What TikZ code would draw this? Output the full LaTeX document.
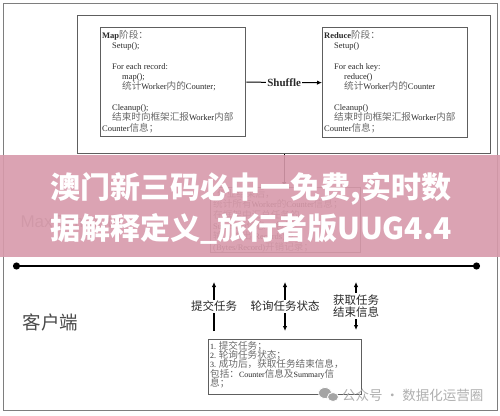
\documentclass[tikz,border=0pt]{standalone}
\usepackage{fontspec}
\setmainfont{Liberation Serif}
\setsansfont{Liberation Sans}
\newfontfamily\cjk{Noto Sans CJK SC}
\usetikzlibrary{arrows.meta,positioning}
\definecolor{ink}{HTML}{2A2A2A}
\definecolor{frame}{HTML}{5E5E5E}
\definecolor{hanzi}{HTML}{6A6A6A}
\definecolor{band}{HTML}{D89AAB}
\definecolor{mark}{HTML}{8E8E8E}
\newcommand{\zh}[1]{{\cjk\color{hanzi}\fontsize{9.6}{10}\selectfont#1}}

\begin{document}
\begin{tikzpicture}[x=1pt,y=-1pt,font=\fontsize{8.5}{10.3}\selectfont,text=ink,>={Latex[length=5pt,width=4.5pt]},
  box/.style={draw=frame,line width=1.3pt,anchor=north west,inner sep=0pt},
  code/.style={anchor=north west,align=left,inner sep=0pt,execute at begin node={\lineskiplimit=-8pt\relax}},
  tag/.style={fill=white,inner sep=1pt,align=center,font=\cjk\color{hanzi}\fontsize{11.5}{12.5}\selectfont}]
  \useasboundingbox (0,0) rectangle (500,415);
  \fill[white] (0,0) rectangle (500,415);
  \draw[frame!80,line width=1pt] (3,3) rectangle (497,410);

  \node[box,minimum width=413pt,minimum height=138pt] (worker) at (77,15) {};
  \node[box,minimum width=145pt,minimum height=109pt] (map) at (100,27) {};
  \node[box,minimum width=145pt,minimum height=110pt] (reduce) at (322,27) {};
  \node[code] (maptext) at (102,30)
    {\textbf{Map}\zh{阶段：}\\
     \hspace*{10pt}Setup();\\[10.3pt]
     \hspace*{10pt}For each record:\\
     \hspace*{20pt}map();\\
     \hspace*{20pt}\zh{统计}Worker\zh{内的}Counter;\\[10.3pt]
     \hspace*{10pt}Cleanup();\\
     \hspace*{10pt}\zh{结束时向框架汇报}Worker\zh{内部}\\
     Counter\zh{信息；}};
  \node[code] (reducetext) at (324,30)
    {\textbf{Reduce}\zh{阶段：}\\
     \hspace*{10pt}Setup()\\[10.3pt]
     \hspace*{10pt}For each key:\\
     \hspace*{20pt}reduce()\\
     \hspace*{20pt}\zh{统计}Worker\zh{内的}Counter\\[10.3pt]
     \hspace*{10pt}Cleanup()\\
     \hspace*{10pt}\zh{结束时向框架汇报}Worker\zh{内部}\\
     Counter\zh{信息；}};
  \draw[->,line width=1pt] (map.east) -- node[fill=white,inner sep=1pt,font=\bfseries\fontsize{11}{11}\selectfont] (shuffle) {Shuffle} (reduce.west);

  \node[box,minimum width=150pt,minimum height=65pt] (summary) at (210,187) {};
  \node[code,font=\fontsize{8.5}{10.6}\selectfont] (summarytext) at (213,189)
    {\hspace*{4pt}\zh{作业结束后，}\\
     \zh{统计所有}Worker\zh{的}Counter\zh{信息；}\\
     \zh{在框架中汇总任务的}\\
     Summary\zh{信息，包括}\\
     \zh{输入输出}(Records)\zh{及}\\
     (Bytes/Record)\zh{开销记录；}};
  \draw[->,line width=1pt] (worker.south) -- (worker.south |- summary.north);
  \node[anchor=west,font=\sffamily\fontsize{17}{17}\selectfont,text=mark] (product) at (17,223) {MaxCompute};

  \fill[band,opacity=0.9] (0,155) rectangle (500,257);
  \node[font=\cjk\bfseries\fontsize{30}{41}\selectfont,text=white,align=center] (banner) at (251,208)
    {澳门新三码必中一免费,实时数\\据解释定义\_旅行者版UUG4.4};

  \coordinate (lineL) at (13,266);
  \coordinate (lineR) at (480,266);
  \draw[line width=2pt,{Circle[length=7pt]}-{Circle[length=7pt]}] (lineL) -- (lineR);

  \node[anchor=west,font=\cjk\fontsize{18.5}{18}\selectfont,text=ink!85] (client) at (19,322) {客户端};

  \node[box,minimum width=153pt,minimum height=55pt] (jobbox) at (208,339) {};
  \node[code,font=\fontsize{8}{9.3}\selectfont] (jobtext) at (210,341)
    {1. \zh{提交任务；}\\
     2. \zh{轮询任务状态；}\\
     3. \zh{成功后，获取任务结束信息，}\\
     \zh{包括：}Counter\zh{信息及}Summary\zh{信}\\
     \zh{息；}};

  \coordinate (submitT) at (214,282);
  \coordinate (submitB) at (214,331);
  \coordinate (pollT) at (285,282);
  \coordinate (pollB) at (285,331);
  \coordinate (fetchT) at (356,282);
  \coordinate (fetchB) at (356,330);
  \draw[->,line width=1.2pt] (submitB) -- node[tag] (submit) {提交任务} (submitT);
  \draw[<->,line width=1.2pt] (pollB) -- node[tag] (poll) {轮询任务状态} (pollT);
  \draw[<->,line width=1.2pt] (fetchB) -- node[tag] (fetch) {获取任务\\结束信息} (fetchT);

  \fill[mark!80,draw=white,line width=0.8pt] (325,393) ellipse [x radius=6.5,y radius=5.5];
  \fill[mark!80,draw=white,line width=0.8pt] (333,397) ellipse [x radius=5.5,y radius=4.5];
  \node[anchor=west,inner sep=0pt,font=\cjk\fontsize{13.5}{14}\selectfont,text=mark!70] (wechat) at (342,395) {公众号 · 数据化运营圈};
\end{tikzpicture}
\end{document}
